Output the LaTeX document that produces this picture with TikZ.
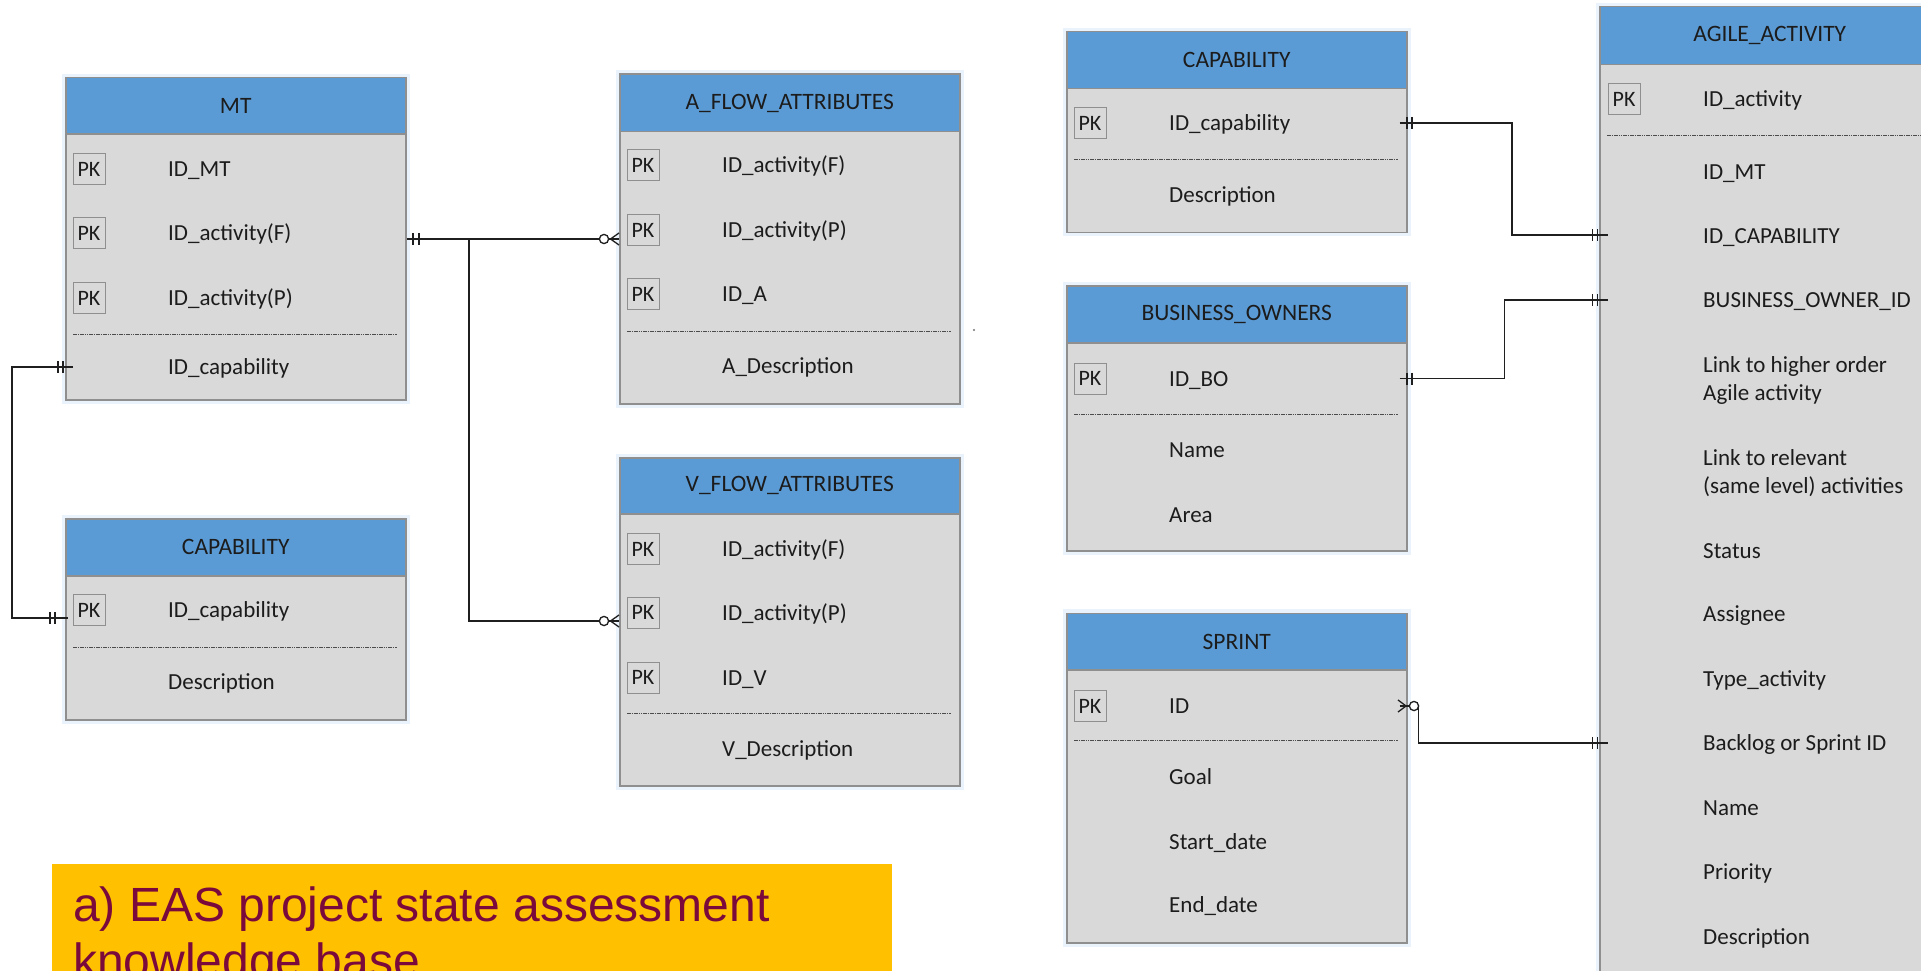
\documentclass[tikz,border=0pt]{standalone}
\usepackage{fontspec}
\setmainfont{Carlito}
\newfontfamily\capfont{Liberation Sans}
\usetikzlibrary{calc}
\definecolor{hdrblue}{HTML}{5B9BD5}
\definecolor{bodygrey}{HTML}{D9D9D9}
\definecolor{edgegrey}{HTML}{8F8F8F}
\definecolor{glow}{HTML}{EAF2FB}
\definecolor{txt}{HTML}{1C1C1C}
\definecolor{capyellow}{HTML}{FFC000}
\definecolor{capred}{HTML}{7A0A3C}
\begin{document}
\begin{tikzpicture}[x=1pt,y=-1pt,
  tbody/.style={draw=edgegrey, line width=1.5pt, fill=bodygrey, anchor=north west, minimum width=340pt, inner sep=0pt, preaction={draw=glow, line width=8pt}},
  thead/.style={draw=edgegrey, line width=1.5pt, fill=hdrblue, anchor=north west, minimum width=340pt, inner sep=0pt, font=\fontsize{23.5}{28}\selectfont, text=txt},
  field/.style={anchor=base west, yshift=-7.6pt, inner sep=0pt, font=\fontsize{23}{28}\selectfont, text=txt},
  pk/.style={draw=edgegrey, line width=1pt, fill=bodygrey, minimum width=32pt, minimum height=31pt, inner sep=0pt, font=\fontsize{22}{26}\selectfont, text=txt},
  sep/.style={draw=black!70, line width=0.8pt, dash pattern=on 1.6pt off 0.7pt},
  conn/.style={draw=black!88, line width=1.6pt},
  tick/.style={draw=black!88, line width=1.3pt},
  ring/.style={draw=black!88, line width=1.3pt, fill=white},
  caption/.style={anchor=base west, inner sep=0pt, font=\capfont\fontsize{48}{56}\selectfont, text=capred}
]
\useasboundingbox (0,0) rectangle (1921,971);
\clip (0,0) rectangle (1921,971);
\fill[white] (0,0) rectangle (1921,971);

% ---------------- MT
\node[tbody, minimum height=322pt] (mt) at (65,77) {};
\node[thead, minimum height=56.5pt] (mth) at (65,77) {MT};
\node[pk] (mtp1) at (89,169) {PK};
\node[pk] (mtp2) at (89,233) {PK};
\node[pk] (mtp3) at (89,298) {PK};
\node[field] (mt1) at (168,169) {ID\_MT};
\node[field] (mt2) at (168,233) {ID\_activity(F)};
\node[field] (mt3) at (168,298) {ID\_activity(P)};
\draw[sep] (73,334) -- (397,334);
\node[field] (mt4) at (168,367) {ID\_capability};

% ---------------- A_FLOW_ATTRIBUTES
\node[tbody, minimum height=329.5pt] (af) at (619,73.5) {};
\node[thead, minimum height=57.5pt] (afh) at (619,73.5) {A\_FLOW\_ATTRIBUTES};
\node[pk] (afp1) at (643,165) {PK};
\node[pk] (afp2) at (643,230) {PK};
\node[pk] (afp3) at (643,294) {PK};
\node[field] (af1) at (722,165) {ID\_activity(F)};
\node[field] (af2) at (722,230) {ID\_activity(P)};
\node[field] (af3) at (722,294) {ID\_A};
\draw[sep] (627,331) -- (951,331);
\node[field] (af4) at (722,366) {A\_Description};

% ---------------- V_FLOW_ATTRIBUTES
\node[tbody, minimum height=328pt] (vf) at (619,457) {};
\node[thead, minimum height=56pt] (vfh) at (619,457) {V\_FLOW\_ATTRIBUTES};
\node[pk] (vfp1) at (643,549) {PK};
\node[pk] (vfp2) at (643,612.5) {PK};
\node[pk] (vfp3) at (643,677.5) {PK};
\node[field] (vf1) at (722,549) {ID\_activity(F)};
\node[field] (vf2) at (722,612.5) {ID\_activity(P)};
\node[field] (vf3) at (722,677.5) {ID\_V};
\draw[sep] (627,713) -- (951,713);
\node[field] (vf4) at (722,748.5) {V\_Description};

% ---------------- CAPABILITY (left)
\node[tbody, minimum height=201pt] (capl) at (65,518) {};
\node[thead, minimum height=57pt] (caplh) at (65,518) {CAPABILITY};
\node[pk] (caplp1) at (89,610) {PK};
\node[field] (capl1) at (168,610) {ID\_capability};
\draw[sep] (73,647) -- (397,647);
\node[field] (capl2) at (168,682) {Description};

% ---------------- CAPABILITY (right)
\node[tbody, minimum height=200.5pt] (capr) at (1066,31) {};
\node[thead, minimum height=57pt] (caprh) at (1066,31) {CAPABILITY};
\node[pk] (caprp1) at (1090,123) {PK};
\node[field] (capr1) at (1169,123) {ID\_capability};
\draw[sep] (1074,159) -- (1398,159);
\node[field] (capr2) at (1169,195) {Description};

% ---------------- BUSINESS_OWNERS
\node[tbody, minimum height=265pt] (bo) at (1066,285) {};
\node[thead, minimum height=57pt] (boh) at (1066,285) {BUSINESS\_OWNERS};
\node[pk] (bop1) at (1090,378.5) {PK};
\node[field] (bo1) at (1169,378.5) {ID\_BO};
\draw[sep] (1074,414) -- (1398,414);
\node[field] (bo2) at (1169,450) {Name};
\node[field] (bo3) at (1169,514.5) {Area};

% ---------------- SPRINT
\node[tbody, minimum height=329.5pt] (sp) at (1066,612.5) {};
\node[thead, minimum height=56.5pt] (sph) at (1066,612.5) {SPRINT};
\node[pk] (spp1) at (1090,706) {PK};
\node[field] (sp1) at (1169,706) {ID};
\draw[sep] (1074,740) -- (1398,740);
\node[field] (sp2) at (1169,777) {Goal};
\node[field] (sp3) at (1169,842) {Start\_date};
\node[field] (sp4) at (1169,905) {End\_date};

% ---------------- AGILE_ACTIVITY
\node[tbody, minimum height=1000pt] (ag) at (1599,6) {};
\node[thead, minimum height=58pt] (agh) at (1599,6) {AGILE\_ACTIVITY};
\node[pk] (agp1) at (1624,99) {PK};
\node[field] (ag1) at (1703,99) {ID\_activity};
\draw[sep] (1607,135) -- (1931,135);
\node[field] (ag2) at (1703,172) {ID\_MT};
\node[field] (ag3) at (1703,236) {ID\_CAPABILITY};
\node[field] (ag4) at (1703,300) {BUSINESS\_OWNER\_ID};
\node[field] (ag5a) at (1703,365) {Link to higher order};
\node[field] (ag5b) at (1703,393) {Agile activity};
\node[field] (ag6a) at (1703,458) {Link to relevant};
\node[field] (ag6b) at (1703,485.5) {(same level) activities};
\node[field] (ag7) at (1703,551) {Status};
\node[field] (ag8) at (1703,614) {Assignee};
\node[field] (ag9) at (1703,679) {Type\_activity};
\node[field] (ag10) at (1703,743) {Backlog or Sprint ID};
\node[field] (ag11) at (1703,808) {Name};
\node[field] (ag12) at (1703,872) {Priority};
\node[field] (ag13) at (1703,937) {Description};

% stray dot
\fill[black!55] (974,330) circle (1.1);

% ---------------- connectors
% MT -> A_FLOW / V_FLOW
\coordinate (j1) at (469,239);
\coordinate (j2) at (469,621);
\draw[conn] (mt.east |- j1) -- (j1) -- (af.west |- j1);
\draw[conn] (j1) -- (j2) -- (vf.west |- j2);
\draw[tick] (413,233) -- (413,245) (419,233) -- (419,245);
\draw[tick] (610.5,239) -- (619,233) (610.5,239) -- (619,245);
\draw[ring] (604,239) circle (4.6);
\draw[tick] (610.5,621) -- (619,615) (610.5,621) -- (619,627);
\draw[ring] (604,621) circle (4.6);

% MT -> CAPABILITY (left)
\coordinate (j3) at (12,367);
\coordinate (j4) at (12,618);
\draw[conn] ($(mt.west |- j3)+(8,0)$) -- (j3) -- (j4) -- ($(capl.west |- j4)+(3,0)$);
\draw[tick] (58,361) -- (58,373) (63,361) -- (63,373);
\draw[tick] (50,612) -- (50,624) (55,612) -- (55,624);

% CAPABILITY (right) -> AGILE
\coordinate (j5) at (1512,123);
\coordinate (j6) at (1512,235);
\draw[conn] ($(capr.east |- j5)+(-8,0)$) -- (j5) -- (j6) -- ($(ag.west |- j6)+(9,0)$);
\draw[tick] (1407,117) -- (1407,129) (1412,117) -- (1412,129);
\draw[tick] (1592.5,229) -- (1592.5,241) (1597.5,229) -- (1597.5,241);

% BUSINESS_OWNERS -> AGILE
\coordinate (j7) at (1504.5,378.5);
\coordinate (j8) at (1504.5,300);
\draw[conn] ($(bo.east |- j7)+(-8,0)$) -- (j7) -- (j8) -- ($(ag.west |- j8)+(9,0)$);
\draw[tick] (1407,372.5) -- (1407,384.5) (1412,372.5) -- (1412,384.5);
\draw[tick] (1592.5,294) -- (1592.5,306) (1597.5,294) -- (1597.5,306);

% SPRINT -> AGILE
\coordinate (j9) at (1418.5,706);
\coordinate (j10) at (1418.5,743);
\draw[conn] ($(sp.east |- j9)+(-8,0)$) -- (j9) -- (j10) -- ($(ag.west |- j10)+(9,0)$);
\draw[tick] (1398,700) -- (1406,706) (1398,712) -- (1406,706);
\draw[ring] (1414,706) circle (4.6);
\draw[tick] (1592.5,737) -- (1592.5,749) (1597.5,737) -- (1597.5,749);

% ---------------- caption
\fill[capyellow] (52,864) rectangle (892,990);
\node[caption] (cap1) at (73,921) {a) EAS project state assessment};
\node[caption] (cap2) at (73,977) {knowledge base};
\end{tikzpicture}
\end{document}
